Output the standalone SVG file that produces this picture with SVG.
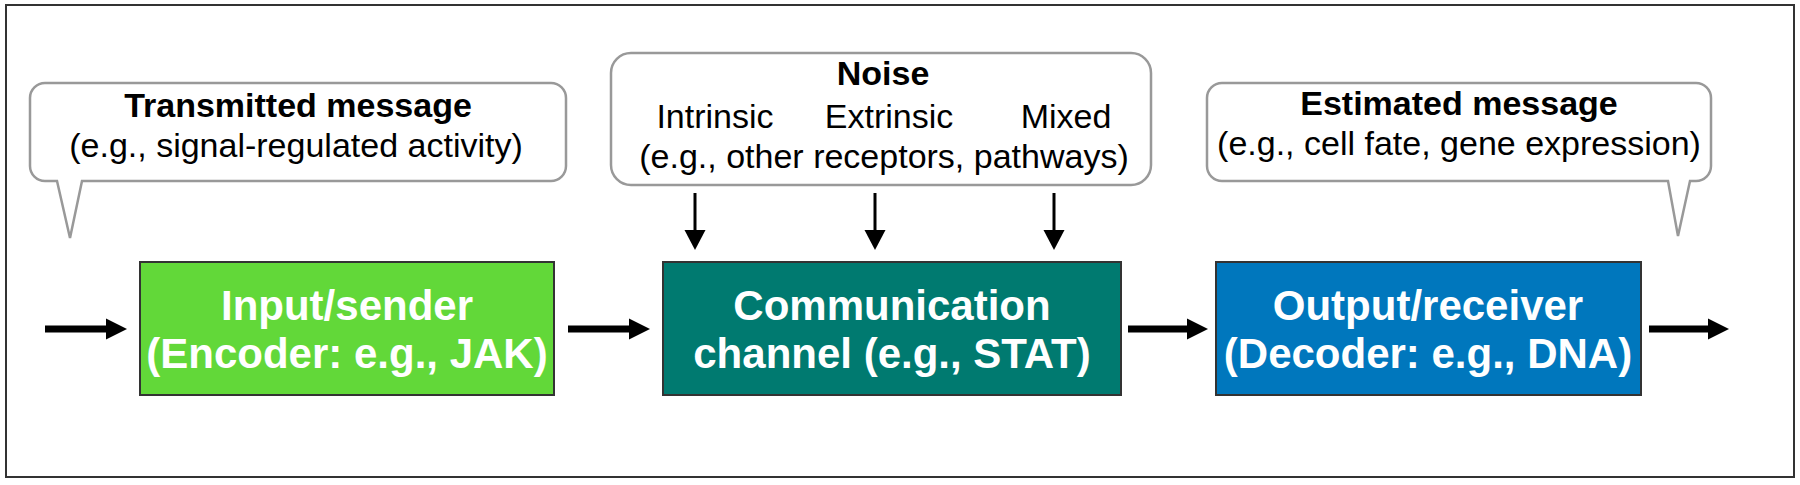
<svg xmlns="http://www.w3.org/2000/svg" width="1800" height="485" viewBox="0 0 1800 485">
  <defs>
    <style>
      .frame { fill: #ffffff; stroke: #333333; stroke-width: 2; }
      .callout { fill: #ffffff; stroke: #999999; stroke-width: 2.5; stroke-linejoin: miter; }
      .box { stroke: #333333; stroke-width: 2; }
      .t { font-family: "Liberation Sans", Arial, sans-serif; font-size: 34px; fill: #000000; text-anchor: middle; }
      .tb { font-weight: bold; }
      .bt { font-family: "Liberation Sans", Arial, sans-serif; font-size: 42px; font-weight: bold; fill: #ffffff; text-anchor: middle; }
      .arrow { stroke: #000000; stroke-width: 7; fill: none; }
      .arrowS { stroke: #000000; stroke-width: 3; fill: none; }
    </style>
    <marker id="head" markerUnits="userSpaceOnUse" markerWidth="22" markerHeight="22" refX="0" refY="10.5" orient="auto" viewBox="0 0 22 21">
      <path d="M0,0 L21,10.5 L0,21 Z" fill="#000000"/>
    </marker>
    <marker id="headS" markerUnits="userSpaceOnUse" markerWidth="21" markerHeight="22" refX="0" refY="10.5" orient="auto" viewBox="0 0 21 21">
      <path d="M0,0 L20,10.5 L0,21 Z" fill="#000000"/>
    </marker>
  </defs>

  <rect class="frame" x="6" y="5" width="1788" height="472"/>

  <g id="transmitted">
    <path class="callout" d="M45,83 H551 A15,15 0 0 1 566,98 V166 A15,15 0 0 1 551,181 H82 L70,238 L57,181 H45 A15,15 0 0 1 30,166 V98 A15,15 0 0 1 45,83 Z"/>
    <text class="t tb" x="298" y="117">Transmitted message</text>
    <text class="t" x="296" y="157">(e.g., signal-regulated activity)</text>
  </g>

  <g id="noise">
    <rect class="callout" x="611" y="53" width="540" height="132" rx="20" ry="20"/>
    <text class="t tb" x="883" y="85">Noise</text>
    <text class="t" x="715" y="128">Intrinsic</text>
    <text class="t" x="889" y="128">Extrinsic</text>
    <text class="t" x="1066" y="128">Mixed</text>
    <text class="t" x="884" y="168">(e.g., other receptors, pathways)</text>
  </g>

  <g id="estimated">
    <path class="callout" d="M1222,83 H1696 A15,15 0 0 1 1711,98 V166 A15,15 0 0 1 1696,181 H1690 L1678,236 L1668,181 H1222 A15,15 0 0 1 1207,166 V98 A15,15 0 0 1 1222,83 Z"/>
    <text class="t tb" x="1459" y="115">Estimated message</text>
    <text class="t" x="1459" y="155">(e.g., cell fate, gene expression)</text>
  </g>

  <g id="input">
    <rect class="box" x="140" y="262" width="414" height="133" fill="#62D839"/>
    <text class="bt" x="347" y="320">Input/sender</text>
    <text class="bt" x="347" y="368">(Encoder: e.g., JAK)</text>
  </g>

  <g id="channel">
    <rect class="box" x="663" y="262" width="458" height="133" fill="#007A70"/>
    <text class="bt" x="892" y="320">Communication</text>
    <text class="bt" x="892" y="368">channel (e.g., STAT)</text>
  </g>

  <g id="output">
    <rect class="box" x="1216" y="262" width="425" height="133" fill="#0077BD"/>
    <text class="bt" x="1428" y="320">Output/receiver</text>
    <text class="bt" x="1428" y="368">(Decoder: e.g., DNA)</text>
  </g>

  <g id="connectors">
    <line class="arrow" x1="45" y1="329" x2="106" y2="329" marker-end="url(#head)"/>
    <line class="arrow" x1="568" y1="329" x2="629" y2="329" marker-end="url(#head)"/>
    <line class="arrow" x1="1128" y1="329" x2="1187" y2="329" marker-end="url(#head)"/>
    <line class="arrow" x1="1649" y1="329" x2="1708" y2="329" marker-end="url(#head)"/>
    <line class="arrowS" x1="695" y1="193" x2="695" y2="230" marker-end="url(#headS)"/>
    <line class="arrowS" x1="875" y1="193" x2="875" y2="230" marker-end="url(#headS)"/>
    <line class="arrowS" x1="1054" y1="193" x2="1054" y2="230" marker-end="url(#headS)"/>
  </g>
</svg>
